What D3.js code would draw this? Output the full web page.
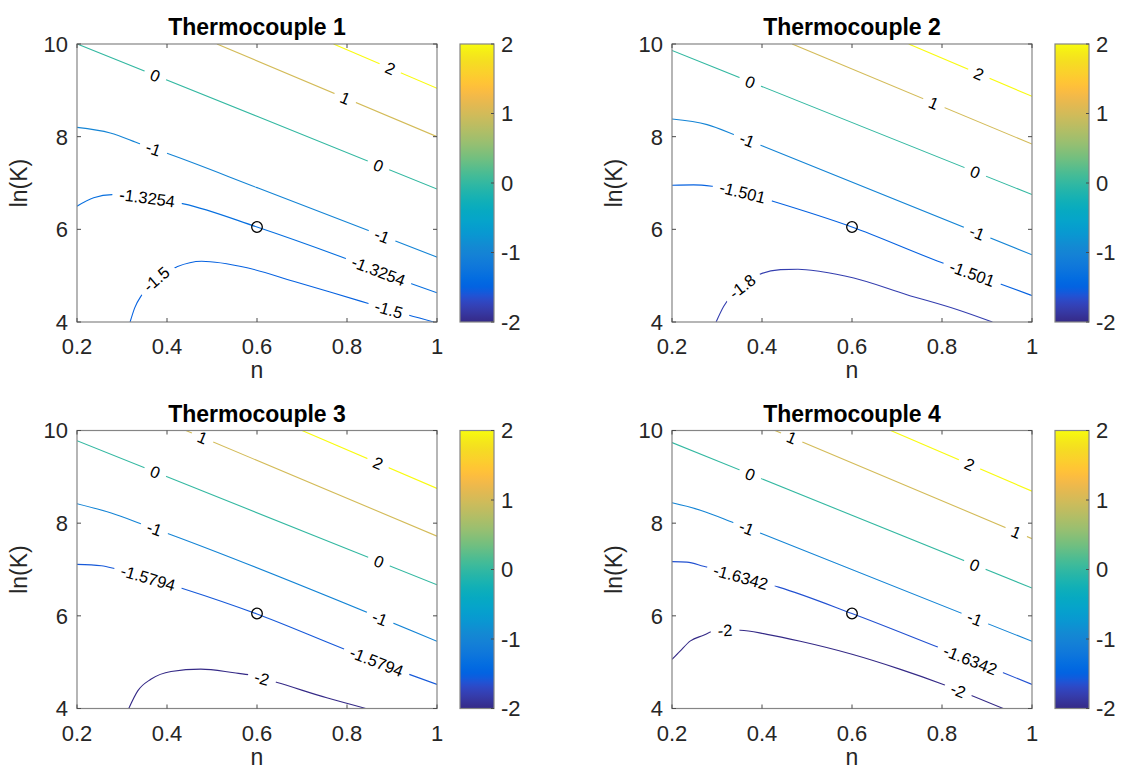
<!DOCTYPE html>
<html><head><meta charset="utf-8">
<script src="https://cdn.jsdelivr.net/npm/d3@7"></script>
<style>
body{margin:0;background:#fff}
svg{display:block}
text{font-family:"Liberation Sans",Arial,Helvetica,sans-serif}
</style>
</head><body>
<svg id="chart" width="1123" height="770"></svg>
<script>
// ---------------- data ----------------
const titles = ["Thermocouple 1", "Thermocouple 2", "Thermocouple 3", "Thermocouple 4"];
const xLabel = "n";
const yLabel = "ln(K)";
const xDomain = [0.2, 1];
const yDomain = [4, 10];
const cDomain = [-2, 2];
const xTicks = [0.2, 0.4, 0.6, 0.8, 1];
const yTicks = [4, 6, 8, 10];
const cbTicks = [-2, -1, 0, 1, 2];
const marker = [0.6, 6.05];

// contour lines: level, points [n, ln(K)], label positions (n)
const tc1Contours = [
  {level: 2, pts: [[0.770,10],[1.0,9.045]], labels: [0.896]},
  {level: 1, pts: [[0.511,10],[1.0,8.0]], labels: [0.796]},
  {level: 0, pts: [[0.2,10],[0.6,8.44],[1.0,6.87]], labels: [0.374,0.870]},
  {level: -1, pts: [[0.2,8.20],[0.274,8.08],[0.341,7.84],[0.4,7.64],[0.6,6.90],[0.852,5.96],[1.0,5.40]], labels: [0.370,0.878]},
  {level: -1.3254, pts: [[0.2,6.50],[0.237,6.68],[0.278,6.75],[0.356,6.68],[0.437,6.55],[0.6,6.05],[0.8,5.36],[0.948,4.81],[1.0,4.63]], labels: [0.356,0.870]},
  {level: -1.5, pts: [[0.318,4.0],[0.328,4.3],[0.345,4.6],[0.378,4.95],[0.422,5.19],[0.477,5.31],[0.578,5.17],[0.681,4.88],[0.83,4.45],[0.893,4.27],[0.993,4.0]], labels: [0.376,0.893]}
];
const tc2Contours = [
  {level: 2, pts: [[0.726,10],[1.0,8.87]], labels: [0.882]},
  {level: 1, pts: [[0.467,10],[1.0,7.84]], labels: [0.782]},
  {level: 0, pts: [[0.2,9.86],[1.0,6.75]], labels: [0.374,0.874]},
  {level: -1, pts: [[0.2,8.38],[0.278,8.26],[0.344,8.02],[0.404,7.79],[1.0,5.45]], labels: [0.367,0.878]},
  {level: -1.501, pts: [[0.2,6.95],[0.248,6.96],[0.289,6.93],[0.357,6.80],[0.426,6.60],[0.6,6.05],[0.781,5.35],[0.933,4.81],[1.0,4.57]], labels: [0.357,0.867]},
  {level: -1.8, pts: [[0.298,4.0],[0.315,4.34],[0.333,4.58],[0.356,4.77],[0.393,5.02],[0.441,5.13],[0.48,5.14],[0.53,5.09],[0.604,4.95],[0.722,4.59],[0.833,4.27],[0.912,4.0]], labels: [0.356]}
];
const tc3Contours = [
  {level: 2, pts: [[0.700,10],[1.0,8.75]], labels: [0.869]},
  {level: 1, pts: [[0.442,10],[1.0,7.72]], labels: [0.479]},
  {level: 0, pts: [[0.2,9.78],[1.0,6.67]], labels: [0.374,0.871]},
  {level: -1, pts: [[0.2,8.42],[0.276,8.22],[0.350,7.96],[0.409,7.75],[1.0,5.45]], labels: [0.372,0.873]},
  {level: -1.5794, pts: [[0.2,7.11],[0.254,7.08],[0.287,7.01],[0.358,6.82],[0.438,6.58],[0.6,6.04],[0.792,5.29],[0.943,4.72],[1.0,4.52]], labels: [0.358,0.866]},
  {level: -2, pts: [[0.315,4.0],[0.335,4.38],[0.364,4.63],[0.409,4.80],[0.475,4.85],[0.549,4.77],[0.586,4.72],[0.645,4.56],[0.755,4.23],[0.842,4.0]], labels: [0.611]}
];
const tc4Contours = [
  {level: 2, pts: [[0.686,10],[1.0,8.69]], labels: [0.861]},
  {level: 1, pts: [[0.429,10],[1.0,7.665]], labels: [0.466,0.965]},
  {level: 0, pts: [[0.2,9.74],[1.0,6.60]], labels: [0.374,0.873]},
  {level: -1, pts: [[0.2,8.44],[0.263,8.28],[0.337,8.01],[0.403,7.76],[1.0,5.45]], labels: [0.366,0.873]},
  {level: -1.6342, pts: [[0.2,7.17],[0.233,7.16],[0.270,7.07],[0.353,6.84],[0.437,6.62],[0.6,6.05],[0.792,5.32],[0.939,4.76],[1.0,4.52]], labels: [0.353,0.863]},
  {level: -2, pts: [[0.2,5.06],[0.218,5.24],[0.241,5.46],[0.270,5.58],[0.289,5.66],[0.318,5.69],[0.352,5.69],[0.411,5.60],[0.485,5.45],[0.6,5.17],[0.706,4.85],[0.803,4.52],[0.936,4.0]], labels: [0.318,0.836]}
];
const allContours = [tc1Contours, tc2Contours, tc3Contours, tc4Contours];

// parula colormap (MATLAB)
const parula = [
[0.2081,0.1663,0.5292],[0.2116,0.1898,0.5777],[0.2123,0.2138,0.6270],[0.2081,0.2386,0.6771],
[0.1959,0.2645,0.7279],[0.1707,0.2919,0.7792],[0.1253,0.3242,0.8303],[0.0591,0.3598,0.8683],
[0.0117,0.3875,0.8820],[0.0060,0.4086,0.8828],[0.0165,0.4266,0.8786],[0.0329,0.4430,0.8720],
[0.0498,0.4586,0.8641],[0.0629,0.4737,0.8554],[0.0723,0.4887,0.8467],[0.0779,0.5040,0.8384],
[0.0793,0.5200,0.8312],[0.0749,0.5375,0.8263],[0.0641,0.5570,0.8240],[0.0488,0.5772,0.8228],
[0.0343,0.5966,0.8199],[0.0265,0.6137,0.8135],[0.0239,0.6287,0.8038],[0.0231,0.6418,0.7913],
[0.0228,0.6535,0.7768],[0.0267,0.6642,0.7607],[0.0384,0.6743,0.7436],[0.0590,0.6838,0.7254],
[0.0843,0.6928,0.7062],[0.1133,0.7015,0.6859],[0.1453,0.7098,0.6646],[0.1801,0.7177,0.6424],
[0.2178,0.7250,0.6193],[0.2586,0.7317,0.5954],[0.3022,0.7376,0.5712],[0.3482,0.7424,0.5473],
[0.3953,0.7459,0.5244],[0.4420,0.7481,0.5033],[0.4871,0.7491,0.4840],[0.5300,0.7491,0.4661],
[0.5709,0.7485,0.4494],[0.6099,0.7473,0.4337],[0.6473,0.7456,0.4188],[0.6834,0.7435,0.4044],
[0.7184,0.7411,0.3905],[0.7525,0.7384,0.3768],[0.7858,0.7356,0.3633],[0.8185,0.7327,0.3498],
[0.8507,0.7299,0.3360],[0.8824,0.7274,0.3217],[0.9139,0.7258,0.3063],[0.9450,0.7261,0.2886],
[0.9739,0.7314,0.2666],[0.9938,0.7455,0.2403],[0.9990,0.7653,0.2164],[0.9955,0.7861,0.1967],
[0.9880,0.8066,0.1794],[0.9789,0.8271,0.1633],[0.9697,0.8481,0.1475],[0.9626,0.8705,0.1309],
[0.9589,0.8949,0.1132],[0.9598,0.9218,0.0948],[0.9661,0.9514,0.0755],[0.9763,0.9831,0.0538]
].map(c => d3.rgb(c[0]*255, c[1]*255, c[2]*255).formatHex());

// ---------------- layout ----------------
const W = 360, H = 278;
const origins = [[77, 44], [672, 44], [77, 430.5], [672, 430.5]];
const svg = d3.select("#chart");
const defs = svg.append("defs");
const colorScale = d3.scaleSequential(d3.interpolateRgbBasis(parula)).domain(cDomain);

const grad = defs.append("linearGradient").attr("id", "parulaGrad")
  .attr("x1", 0).attr("y1", 1).attr("x2", 0).attr("y2", 0);
parula.forEach((c, i) => grad.append("stop").attr("offset", i / (parula.length - 1)).attr("stop-color", c));

const textColor = "#262626", boxColor = "#858585", tickColor = "#4a4a4a";

function interpAt(pts, n) {
  if (n <= pts[0][0]) return pts[0][1];
  for (let i = 0; i < pts.length - 1; i++) {
    const a = pts[i], b = pts[i + 1];
    if (n >= a[0] && n <= b[0]) return a[1] + (b[1] - a[1]) * (n - a[0]) / (b[0] - a[0]);
  }
  return pts[pts.length - 1][1];
}

titles.forEach((title, k) => {
  const [x0, y0] = origins[k];
  const x = d3.scaleLinear().domain(xDomain).range([x0, x0 + W]);
  const y = d3.scaleLinear().domain(yDomain).range([y0 + H, y0]);
  const g = svg.append("g");

  defs.append("clipPath").attr("id", "clip" + k)
    .append("rect").attr("x", x0).attr("y", y0).attr("width", W).attr("height", H);

  // contour lines
  const line = d3.line().x(d => x(d[0])).y(d => y(d[1])).curve(d3.curveMonotoneX);
  const cg = g.append("g").attr("clip-path", `url(#clip${k})`);
  const contours = allContours[k];
  contours.forEach(c => {
    cg.append("path").attr("d", line(c.pts)).attr("fill", "none")
      .attr("stroke", colorScale(c.level)).attr("stroke-width", 1.1);
  });
  // contour labels
  contours.forEach(c => {
    c.labels.forEach(n => {
      const px = x(n), py = y(interpAt(c.pts, n));
      const na = Math.max(c.pts[0][0], n - 0.015), nb = Math.min(c.pts[c.pts.length - 1][0], n + 0.015);
      const ax = x(na), ay = y(interpAt(c.pts, na)), bx = x(nb), by = y(interpAt(c.pts, nb));
      let ang = Math.atan2(by - ay, bx - ax) * 180 / Math.PI;
      const lg = cg.append("g").attr("transform", `translate(${px},${py}) rotate(${ang})`);
      const rect = lg.append("rect").attr("fill", "#fff");
      const t = lg.append("text").text(String(c.level)).attr("text-anchor", "middle")
        .attr("dy", "0.36em").attr("font-size", 16.5).attr("fill", "#000");
      const wd = t.node().getComputedTextLength();
      rect.attr("x", -wd / 2 - 7).attr("y", -6).attr("width", wd + 14).attr("height", 12);
    });
  });

  // marker
  g.append("circle").attr("cx", x(marker[0])).attr("cy", y(marker[1])).attr("r", 5.3)
    .attr("fill", "none").attr("stroke", "#000").attr("stroke-width", 1.3);

  // box
  g.append("rect").attr("x", x0).attr("y", y0).attr("width", W).attr("height", H)
    .attr("fill", "none").attr("stroke", boxColor).attr("stroke-width", 1.2);

  // ticks (inward, all four sides)
  const tl = 4;
  xTicks.forEach(v => {
    g.append("line").attr("x1", x(v)).attr("x2", x(v)).attr("y1", y0 + H).attr("y2", y0 + H - tl).attr("stroke", tickColor);
    g.append("line").attr("x1", x(v)).attr("x2", x(v)).attr("y1", y0).attr("y2", y0 + tl).attr("stroke", tickColor);
    g.append("text").attr("x", x(v)).attr("y", y0 + H + 32).attr("text-anchor", "middle")
      .attr("font-size", 22).attr("fill", textColor).text(String(v));
  });
  yTicks.forEach(v => {
    g.append("line").attr("x1", x0).attr("x2", x0 + tl).attr("y1", y(v)).attr("y2", y(v)).attr("stroke", tickColor);
    g.append("line").attr("x1", x0 + W).attr("x2", x0 + W - tl).attr("y1", y(v)).attr("y2", y(v)).attr("stroke", tickColor);
    g.append("text").attr("x", x0 - 9).attr("y", y(v)).attr("dy", "0.36em").attr("text-anchor", "end")
      .attr("font-size", 22).attr("fill", textColor).text(String(v));
  });

  // labels & title
  g.append("text").attr("x", x0 + W / 2).attr("y", y0 + H + 56).attr("text-anchor", "middle")
    .attr("font-size", 23).attr("fill", textColor).text(xLabel);
  g.append("text").attr("transform", `translate(${x0 - 50},${y0 + H / 2}) rotate(-90)`)
    .attr("text-anchor", "middle").attr("font-size", 23).attr("fill", textColor).text(yLabel);
  g.append("text").attr("x", x0 + W / 2).attr("y", y0 - 9).attr("text-anchor", "middle")
    .attr("font-size", 23).attr("font-weight", "bold").attr("fill", "#000").text(title);

  // colorbar
  const cbx = x0 + 383, cbw = 34;
  const cy = d3.scaleLinear().domain(cDomain).range([y0 + H, y0]);
  g.append("rect").attr("x", cbx).attr("y", y0).attr("width", cbw).attr("height", H)
    .attr("fill", "url(#parulaGrad)").attr("stroke", boxColor).attr("stroke-width", 1.2);
  cbTicks.forEach(v => {
    g.append("line").attr("x1", cbx + cbw).attr("x2", cbx + cbw - 3).attr("y1", cy(v)).attr("y2", cy(v)).attr("stroke", tickColor);
    g.append("text").attr("x", cbx + cbw + 7).attr("y", cy(v)).attr("dy", "0.36em")
      .attr("font-size", 22).attr("fill", textColor).text(String(v));
  });
});
</script>
</body></html>
